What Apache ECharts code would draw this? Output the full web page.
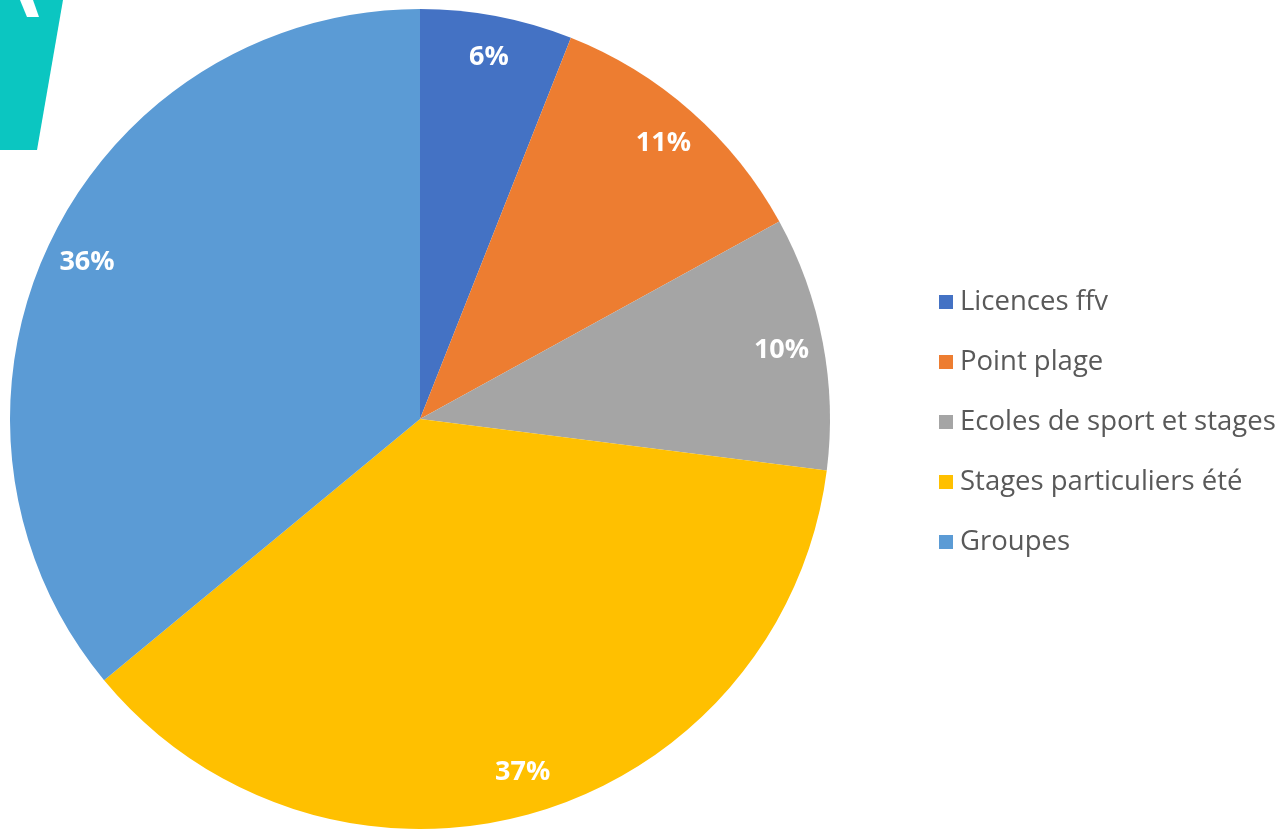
<!DOCTYPE html>
<html>
<head>
<meta charset="utf-8">
<script src="https://cdn.jsdelivr.net/npm/echarts@6/dist/echarts.min.js"></script>
<style>
html,body{margin:0;padding:0;background:#fff;}
#c{width:1286px;height:829px;}
</style>
</head>
<body>
<div id="c"></div>
<script>
const categories = ['Licences ffv', 'Point plage', 'Ecoles de sport et stages', 'Stages particuliers été', 'Groupes'];
const values = [6, 11, 10, 37, 36];
const colors = ['#4472C4', '#ED7D31', '#A5A5A5', '#FFC000', '#5B9BD5'];

const data = categories.map((n, i) => ({ name: n, value: values[i], itemStyle: { color: colors[i] } }));
const labelData = categories.map((n, i) => ({ name: n, value: values[i] }));

const chart = echarts.init(document.getElementById('c'), null, { renderer: 'canvas' });
chart.setOption({
  backgroundColor: '#ffffff',
  animation: false,
  color: colors,
  legend: {
    orient: 'vertical',
    left: 934,
    top: 283,
    itemWidth: 14,
    itemHeight: 14,
    itemGap: 32,
    icon: 'rect',
    data: categories,
    textStyle: { fontFamily: 'Open Sans', fontSize: 27.5, color: '#595959', lineHeight: 27, padding: [0, 0, 0, 2] },
    selectedMode: false
  },
  graphic: [
    { type: 'polygon', shape: { points: [[0, 0], [63, 0], [37, 150], [0, 150]] }, style: { fill: '#0BC6C1' }, z: 10 },
    { type: 'polygon', shape: { points: [[20, 0], [33, 0], [39, 17], [27, 17]] }, style: { fill: '#ffffff' }, z: 11 }
  ],
  series: [
    {
      type: 'pie',
      center: [420, 419],
      radius: [0, 410],
      startAngle: 90,
      silent: true,
      label: { show: false },
      labelLine: { show: false },
      itemStyle: { borderWidth: 0 },
      data: data
    },
    {
      type: 'pie',
      center: [420, 419],
      radius: [320, 410],
      startAngle: 90,
      silent: true,
      itemStyle: { color: 'rgba(0,0,0,0)' },
      label: {
        show: true,
        position: 'inside',
        formatter: p => p.value + '%',
        color: '#ffffff',
        fontFamily: 'Open Sans',
        fontWeight: 'bold',
        fontSize: 27
      },
      labelLine: { show: false },
      data: labelData
    }
  ]
});
</script>
</body>
</html>
